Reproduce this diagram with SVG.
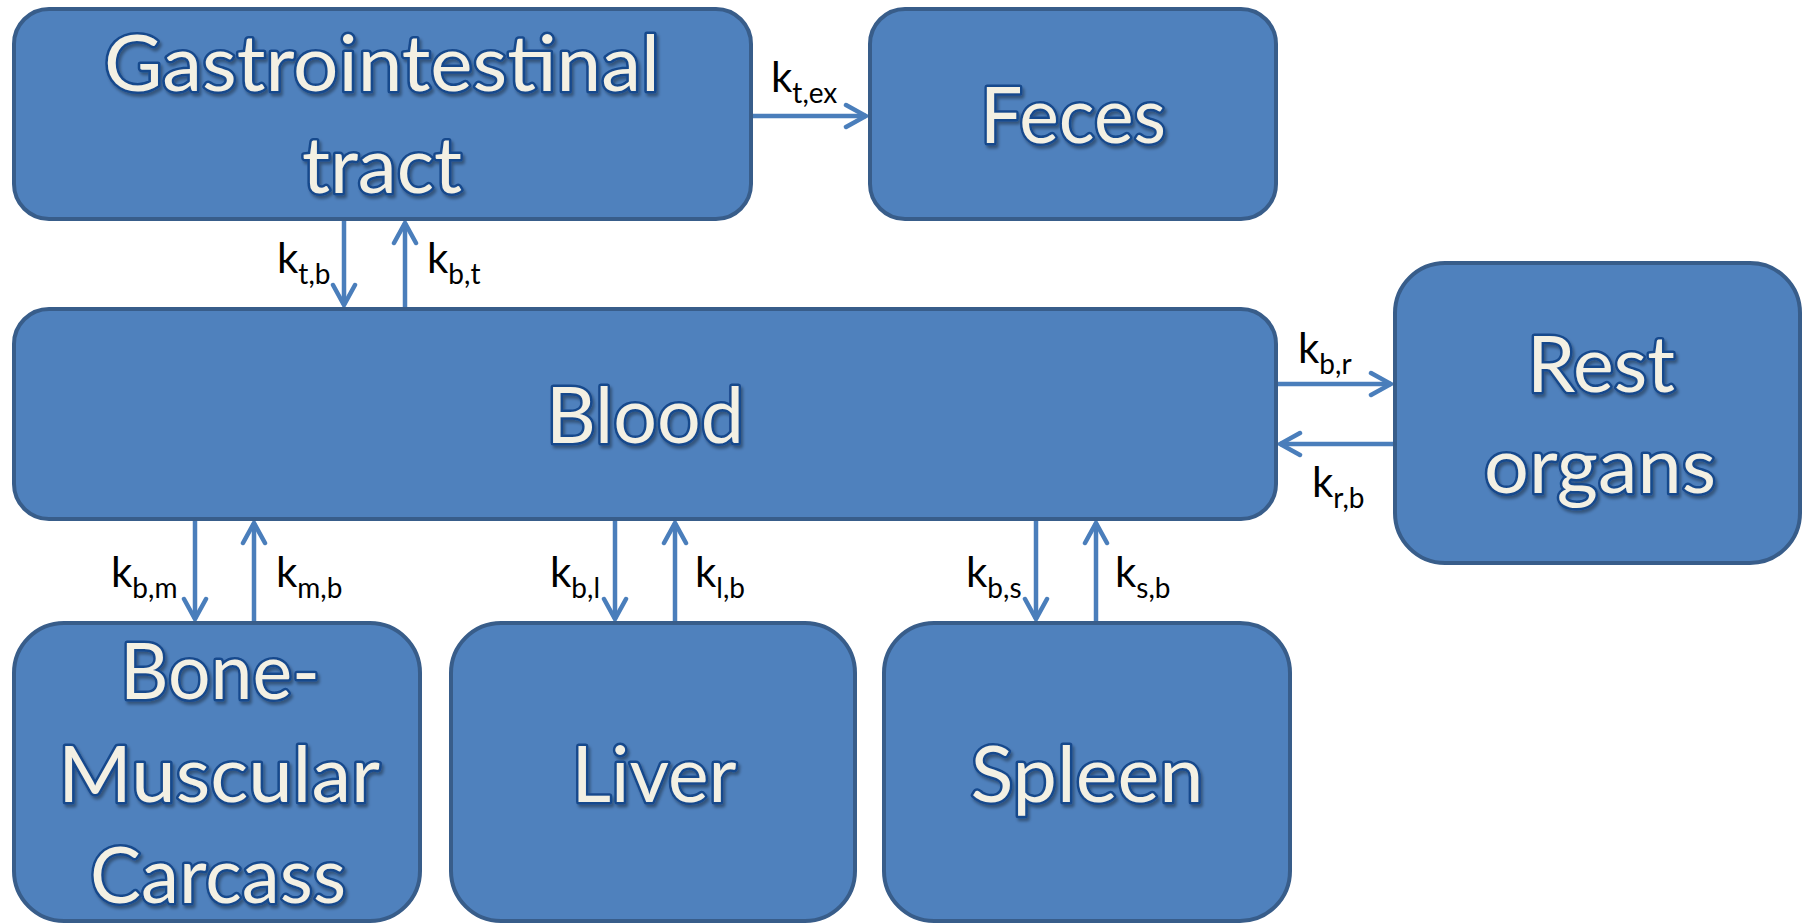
<svg xmlns="http://www.w3.org/2000/svg" width="1806" height="924" viewBox="0 0 1806 924">
<style>
.box{fill:#4F81BD;stroke:#385D8A;stroke-width:4}
.t{font-family:Lato,"Liberation Sans",sans-serif;font-size:78px;fill:#F3F0E3;stroke:#17488C;stroke-width:5;paint-order:stroke;stroke-linejoin:round;text-anchor:middle;filter:url(#sh)}
.c{fill:none;stroke:#4A7EBB;stroke-width:4.5;marker-end:url(#ah)}
.k{font-family:Lato,"Liberation Sans",sans-serif;font-size:42px;fill:#000}
.s{font-size:28px}
</style>
<defs>
<filter id="sh" x="-10%" y="-20%" width="120%" height="150%">
<feDropShadow dx="2" dy="3" stdDeviation="1.5" flood-color="#000" flood-opacity="0.35"/>
</filter>
<marker id="ah" markerUnits="userSpaceOnUse" viewBox="-26 -16 30 32" refX="0" refY="0" markerWidth="30" markerHeight="32" orient="auto">
<path d="M-20,-11 L0,0 L-20,11" fill="none" stroke="#4A7EBB" stroke-width="4.5" stroke-linecap="round" stroke-linejoin="miter"/>
</marker>
</defs>
<g id="connectors">
<path class="c" d="M751,116 H866"/>
<path class="c" d="M344,219 V305"/>
<path class="c" d="M405,309 V223"/>
<path class="c" d="M1276,384 H1391"/>
<path class="c" d="M1395,444 H1280"/>
<path class="c" d="M195,519 V619"/>
<path class="c" d="M254,623 V523"/>
<path class="c" d="M615,519 V619"/>
<path class="c" d="M675,623 V523"/>
<path class="c" d="M1036,519 V619"/>
<path class="c" d="M1096,623 V523"/>
</g>
<g id="labels">
<text class="k" x="771" y="92">k<tspan class="s" dy="11">t,ex</tspan></text>
<text class="k" x="277" y="273">k<tspan class="s" dy="11">t,b</tspan></text>
<text class="k" x="427" y="273">k<tspan class="s" dy="11">b,t</tspan></text>
<text class="k" x="1298" y="363">k<tspan class="s" dy="11">b,r</tspan></text>
<text class="k" x="1312" y="497">k<tspan class="s" dy="11">r,b</tspan></text>
<text class="k" x="111" y="587">k<tspan class="s" dy="11">b,m</tspan></text>
<text class="k" x="276" y="587">k<tspan class="s" dy="11">m,b</tspan></text>
<text class="k" x="550" y="587">k<tspan class="s" dy="11">b,l</tspan></text>
<text class="k" x="695" y="587">k<tspan class="s" dy="11">l,b</tspan></text>
<text class="k" x="966" y="587">k<tspan class="s" dy="11">b,s</tspan></text>
<text class="k" x="1115" y="587">k<tspan class="s" dy="11">s,b</tspan></text>
</g>
<g id="gi">
<rect class="box" x="14" y="9" width="737" height="210" rx="35"/>
<text class="t" x="382" y="91" textLength="556" lengthAdjust="spacingAndGlyphs">Gastrointestinal</text>
<text class="t" x="382" y="193" textLength="160" lengthAdjust="spacingAndGlyphs">tract</text>
</g>
<g id="feces">
<rect class="box" x="870" y="9" width="406" height="210" rx="35"/>
<text class="t" x="1073" y="143" textLength="186" lengthAdjust="spacingAndGlyphs">Feces</text>
</g>
<g id="blood">
<rect class="box" x="14" y="309" width="1262" height="210" rx="35"/>
<text class="t" x="645" y="443" textLength="198" lengthAdjust="spacingAndGlyphs">Blood</text>
</g>
<g id="rest">
<rect class="box" x="1395" y="263" width="405" height="300" rx="50"/>
<text class="t" x="1601" y="392" textLength="148" lengthAdjust="spacingAndGlyphs">Rest</text>
<text class="t" x="1600" y="493" textLength="232" lengthAdjust="spacingAndGlyphs">organs</text>
</g>
<g id="bone">
<rect class="box" x="14" y="623" width="406" height="298" rx="50"/>
<text class="t" x="220" y="699" textLength="200" lengthAdjust="spacingAndGlyphs">Bone-</text>
<text class="t" x="219" y="802" textLength="322" lengthAdjust="spacingAndGlyphs">Muscular</text>
<text class="t" x="218" y="903" textLength="256" lengthAdjust="spacingAndGlyphs">Carcass</text>
</g>
<g id="liver">
<rect class="box" x="451" y="623" width="404" height="298" rx="50"/>
<text class="t" x="654" y="802" textLength="165" lengthAdjust="spacingAndGlyphs">Liver</text>
</g>
<g id="spleen">
<rect class="box" x="884" y="623" width="406" height="298" rx="50"/>
<text class="t" x="1087" y="802" textLength="233" lengthAdjust="spacingAndGlyphs">Spleen</text>
</g>
</svg>
